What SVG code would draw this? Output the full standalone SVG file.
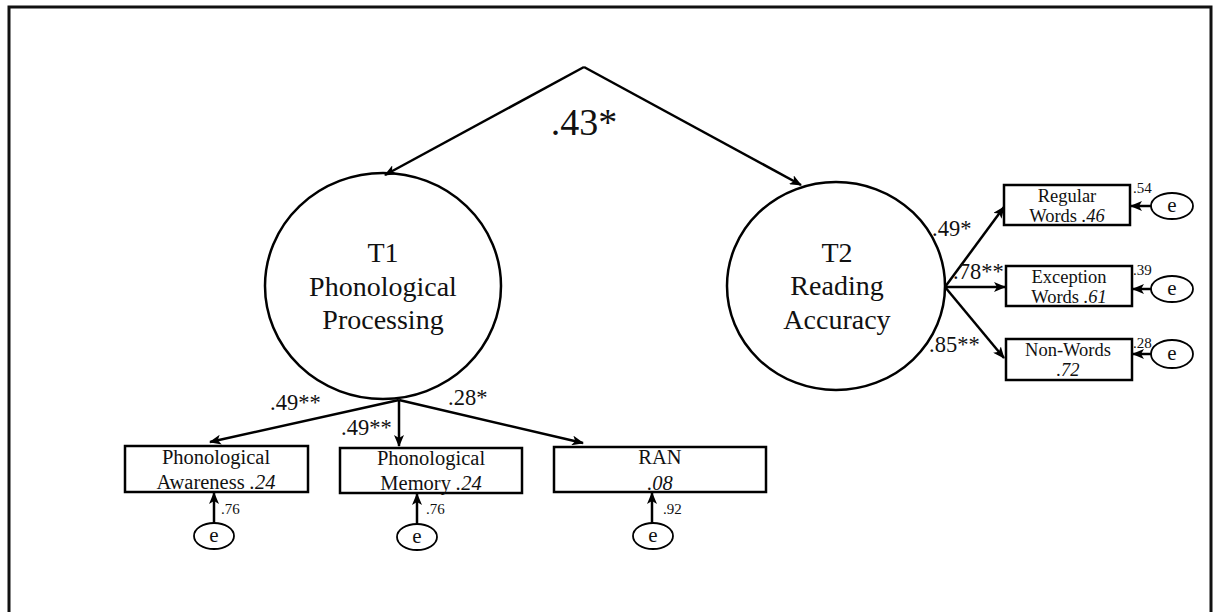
<svg xmlns="http://www.w3.org/2000/svg" width="1218" height="612" viewBox="0 0 1218 612" font-family="'Liberation Serif', serif">
<defs>
<marker id="ah" markerUnits="userSpaceOnUse" markerWidth="12" markerHeight="10" viewBox="0 0 12 10" refX="11" refY="5" orient="auto">
<path d="M0,0 L12,5 L0,10 L3,5 Z" fill="#000"/>
</marker>
</defs>
<style>
text{font-family:'Liberation Serif',serif;fill:#111;text-anchor:middle}
.lat{fill:none;stroke:#000;stroke-width:2.5}
.box{fill:#fff;stroke:#000;stroke-width:2.5}
.err{fill:#fff;stroke:#000;stroke-width:1.8}
.ln{fill:none;stroke:#000;stroke-width:2.5;marker-end:url(#ah)}
.big{font-size:28px}
.ind{font-size:20.5px}
.rind{font-size:18.5px}
.coef{font-size:22.5px;text-anchor:start}
.small{font-size:15px;text-anchor:start}
.e{font-size:21px}
</style>
<rect x="9" y="7" width="1202" height="640" fill="#fff" stroke="#111" stroke-width="3"/>

<g id="connectors">
<path class="ln" d="M584,67 L385,175"/>
<path class="ln" d="M584,67 L801,185"/>
<path class="ln" d="M399,400 L210,442"/>
<path class="ln" d="M399,400 L399,446"/>
<path class="ln" d="M399,400 L583,443"/>
<path class="ln" d="M945,287 L1004,207"/>
<path class="ln" d="M945,287 L1005,287"/>
<path class="ln" d="M945,287 L1004,358"/>
<path class="ln" d="M214,523 L214,493"/>
<path class="ln" d="M417,523 L417,494"/>
<path class="ln" d="M652,523 L652,493"/>
<path class="ln" d="M1151,206 L1131,206"/>
<path class="ln" d="M1151,289 L1133,289"/>
<path class="ln" d="M1151,354 L1133,354"/>
</g>

<g id="labels">
<text x="584" y="135" style="font-size:38px">.43*</text>
<text class="coef" x="270" y="410">.49**</text>
<text class="coef" x="341" y="435">.49**</text>
<text class="coef" x="448" y="405">.28*</text>
<text class="coef" x="932" y="236">.49*</text>
<text class="coef" x="953" y="279">.78**</text>
<text class="coef" x="929" y="352">.85**</text>
</g>

<g id="T1">
<ellipse class="lat" cx="383" cy="286" rx="118" ry="113"/>
<text class="big" x="383" y="262">T1</text>
<text class="big" x="383" y="296">Phonological</text>
<text class="big" x="383" y="329">Processing</text>
</g>

<g id="T2">
<ellipse class="lat" cx="836" cy="286" rx="109" ry="104"/>
<text class="big" x="837" y="262">T2</text>
<text class="big" x="837" y="295">Reading</text>
<text class="big" x="837" y="329">Accuracy</text>
</g>

<g id="PA">
<rect class="box" x="125" y="446" width="183" height="46"/>
<text class="ind" x="216" y="464">Phonological</text>
<text class="ind" x="216" y="489">Awareness <tspan font-style="italic">.24</tspan></text>
</g>
<g id="PM">
<rect class="box" x="340" y="448" width="182" height="45"/>
<text class="ind" x="431" y="465">Phonological</text>
<text class="ind" x="431" y="490">Memory <tspan font-style="italic">.24</tspan></text>
</g>
<g id="RAN">
<rect class="box" x="554" y="447" width="212" height="45"/>
<text class="ind" x="660" y="464">RAN</text>
<text class="ind" x="660" y="490" font-style="italic">.08</text>
</g>

<g id="RW">
<rect class="box" x="1004" y="185" width="126" height="40"/>
<text class="rind" x="1067" y="202">Regular</text>
<text class="rind" x="1067" y="222">Words <tspan font-style="italic">.46</tspan></text>
</g>
<g id="EW">
<rect class="box" x="1006" y="266" width="126" height="40"/>
<text class="rind" x="1069" y="283">Exception</text>
<text class="rind" x="1069" y="303">Words <tspan font-style="italic">.61</tspan></text>
</g>
<g id="NW">
<rect class="box" x="1006" y="339" width="126" height="41"/>
<text class="rind" x="1068" y="356">Non-Words</text>
<text class="rind" x="1068" y="376" font-style="italic">.72</text>
</g>

<g id="e1"><ellipse class="err" cx="214" cy="536" rx="20" ry="13"/><text class="e" x="214" y="542">e</text><text class="small" x="221" y="514">.76</text></g>
<g id="e2"><ellipse class="err" cx="417" cy="537" rx="20" ry="13"/><text class="e" x="417" y="543">e</text><text class="small" x="426" y="514">.76</text></g>
<g id="e3"><ellipse class="err" cx="653" cy="536" rx="20" ry="13"/><text class="e" x="653" y="542">e</text><text class="small" x="663" y="514">.92</text></g>
<g id="e4"><ellipse class="err" cx="1172" cy="206" rx="21" ry="13"/><text class="e" x="1172" y="212">e</text><text class="small" x="1133" y="193">.54</text></g>
<g id="e5"><ellipse class="err" cx="1172" cy="289" rx="21" ry="13"/><text class="e" x="1172" y="295">e</text><text class="small" x="1133" y="275">.39</text></g>
<g id="e6"><ellipse class="err" cx="1172" cy="354" rx="21" ry="14"/><text class="e" x="1172" y="360">e</text><text class="small" x="1133" y="348">.28</text></g>
</svg>
